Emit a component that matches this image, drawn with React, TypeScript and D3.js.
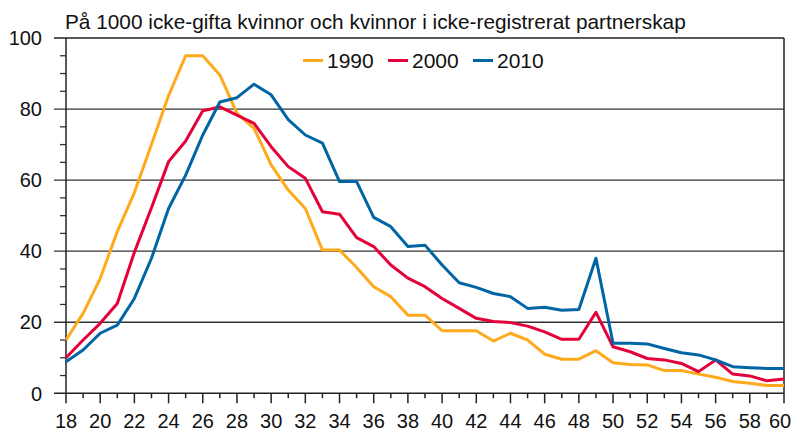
import React from "react";
import * as d3 from "d3";

const ages: number[] = d3.range(18, 61);
const seriesNames = ["1990", "2000", "2010"];
const v1990 = [15, 22.5, 32.3, 45.5, 56.5, 70, 83.8, 95, 95, 89.6, 78.8, 74.6, 64.3, 57.2, 52, 40.3, 40.3, 35.4, 30, 27.2, 22, 22, 17.6, 17.6, 17.6, 14.7, 16.9, 15, 11, 9.6, 9.6, 12, 8.6, 8.1, 8, 6.4, 6.4, 5.4, 4.5, 3.3, 2.8, 2.2, 2.2];
const v2000 = [10, 15, 19.7, 25.3, 39.7, 52.2, 65.2, 71, 79.5, 80.6, 78.3, 76, 69.4, 63.8, 60.5, 51.1, 50.4, 43.8, 41.3, 36.1, 32.4, 30, 26.7, 23.9, 21.1, 20.2, 19.9, 18.9, 17.3, 15.2, 15.2, 22.8, 13.1, 11.7, 9.8, 9.4, 8.4, 6.1, 9.4, 5.4, 4.9, 3.5, 4];
const v2010 = [8.9, 12.2, 16.9, 19.2, 26.7, 38, 52, 61.4, 72.7, 82, 83.2, 87, 84, 77, 72.7, 70.4, 59.6, 59.6, 49.5, 46.9, 41.3, 41.7, 36.1, 31.1, 29.8, 28.1, 27.2, 23.9, 24.2, 23.4, 23.6, 38, 14.1, 14.1, 13.9, 12.6, 11.4, 10.8, 9.4, 7.5, 7.2, 7, 7];
const colors = ["#FFAA1D", "#E3003B", "#0065A4"];
const yGridTicks = [20, 40, 60, 80];
const yLabelTicks = [0, 20, 40, 60, 80, 100];
const yMinorTicks = [5, 10, 15, 25, 30, 35, 45, 50, 55, 65, 70, 75, 85, 90, 95];
const xLabelTicks = d3.range(18, 61, 2);
const xMinorTicks = d3.range(19, 60, 2);
const title = "På 1000 icke-gifta kvinnor och kvinnor i icke-registrerat partnerskap";

const W = 793, H = 432;
const left = 66, right = 784, top = 38, bottom = 393.3;

export default function App() {
  const x = d3.scaleLinear().domain([18, 60]).range([left, right]);
  const y = d3.scaleLinear().domain([0, 100]).range([bottom, top]);
  const series = [v1990, v2000, v2010];
  const line = d3.line<number>().x((_, i) => x(ages[i])).y((d) => y(d));
  const font = "'Liberation Sans', Arial, sans-serif";
  return (
    <svg width={W} height={H} style={{ position: "absolute", left: 0, top: 0, background: "#fff" }} fontFamily={font}>
      <text x={65} y={29} fontSize={20.8} fill="#111">{title}</text>
      {yGridTicks.map((t) => (
        <line key={"g" + t} x1={54} x2={right} y1={y(t)} y2={y(t)} stroke="#333" strokeWidth={1.3} />
      ))}
      {yMinorTicks.map((t) => (
        <line key={"m" + t} x1={60} x2={left} y1={y(t)} y2={y(t)} stroke="#333" strokeWidth={1.3} />
      ))}
      <line x1={54} x2={right} y1={y(100)} y2={y(100)} stroke="#222" strokeWidth={1.5} />
      <line x1={54} x2={right} y1={y(0)} y2={y(0)} stroke="#222" strokeWidth={1.5} />
      <line x1={left} x2={left} y1={top} y2={bottom} stroke="#222" strokeWidth={1.5} />
      <line x1={right} x2={right} y1={top} y2={bottom} stroke="#222" strokeWidth={1.5} />
      {xLabelTicks.map((t) => (
        <line key={"xt" + t} x1={x(t)} x2={x(t)} y1={bottom} y2={bottom + 10} stroke="#222" strokeWidth={1.5} />
      ))}
      {xMinorTicks.map((t) => (
        <line key={"xm" + t} x1={x(t)} x2={x(t)} y1={bottom} y2={bottom + 5} stroke="#222" strokeWidth={1.5} />
      ))}
      {yLabelTicks.map((t) => (
        <text key={"yl" + t} x={42} y={y(t)} dy="0.36em" textAnchor="end" fontSize={20} fill="#111">{t}</text>
      ))}
      {xLabelTicks.map((t) => (
        <text key={"xl" + t} x={Math.min(x(t), W - 13)} y={428} textAnchor="middle" fontSize={20} fill="#111">{t}</text>
      ))}
      {series.map((s, i) => (
        <path key={"s" + i} d={line(s) || ""} fill="none" stroke={colors[i]} strokeWidth={3} strokeLinejoin="round" />
      ))}
      {seriesNames.map((n, i) => {
        const lx = 303 + i * 85;
        return (
          <g key={"lg" + n}>
            <line x1={lx} x2={lx + 20} y1={60.5} y2={60.5} stroke={colors[i]} strokeWidth={3} />
            <text x={lx + 24} y={68} fontSize={21} fill="#111">{n}</text>
          </g>
        );
      })}
    </svg>
  );
}
